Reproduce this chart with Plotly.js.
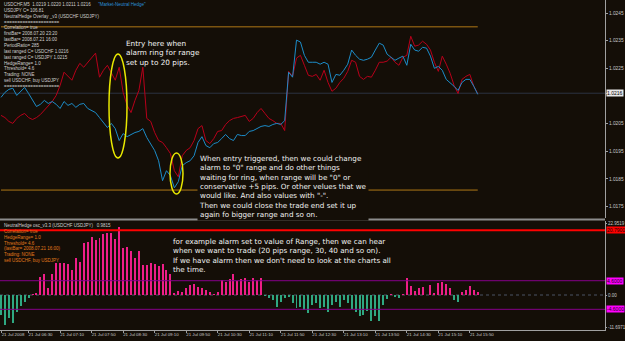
<!DOCTYPE html>
<html><head><meta charset="utf-8">
<script src="https://cdn.plot.ly/plotly-3.0.1.min.js"></script>
<style>html,body{margin:0;padding:0;background:#140e07;overflow:hidden;} #chart{width:625px;height:341px;}</style>
</head><body><div id="chart"></div>
<script>
// ---- data ----
const startTime = [2008, 7, 21, 5, 55];   // first visible M5 bar
const barMinutes = 5;
const redLine = [
1.02080,1.02072,1.02058,1.02051,1.02069,1.02080,1.02087,1.02072,1.02065,1.02072,
1.02083,1.02098,1.02112,1.02130,1.02152,1.02188,1.02236,1.02221,1.02207,1.02243,
1.02268,1.02254,1.02272,1.02290,1.02305,1.02218,1.02243,1.02261,1.02236,1.02207,
1.02254,1.02163,1.02116,1.02090,1.02134,1.02170,1.02254,1.02069,1.02058,1.02018,
1.01989,1.01982,1.01963,1.01942,1.01880,1.01858,1.01934,1.01953,1.01963,1.01989,
1.02032,1.02043,1.01989,1.01978,1.01996,1.02022,1.02025,1.02047,1.02061,1.02069,
1.02072,1.02076,1.02080,1.02058,1.02069,1.02090,1.02105,1.02087,1.02069,1.02061,
1.02051,1.02051,1.02025,1.02239,1.02221,1.02287,1.02297,1.02261,1.02225,1.02221,
1.02228,1.02207,1.02243,1.02199,1.02167,1.02178,1.02199,1.02214,1.02239,1.02279,
1.02272,1.02221,1.02210,1.02221,1.02218,1.02243,1.02272,1.02272,1.02276,1.02290,
1.02272,1.02261,1.02290,1.02297,1.02366,1.02330,1.02334,1.02348,1.02337,1.02316,
1.02272,1.02239,1.02294,1.02265,1.02232,1.02188,1.02159,1.02210,1.02221,1.02228,
1.02185,1.02159];
const blueLine = [
1.02145,1.02163,1.02174,1.02178,1.02152,1.02167,1.02181,1.02159,1.02134,1.02112,
1.02120,1.02134,1.02123,1.02130,1.02120,1.02105,1.02130,1.02116,1.02123,1.02109,
1.02120,1.02123,1.02105,1.02098,1.02090,1.02072,1.02054,1.02036,1.02051,1.02032,
1.01989,1.02014,1.02003,1.02011,1.02018,1.02022,1.02032,1.02000,1.01978,1.01953,
1.01916,1.01844,1.01880,1.01862,1.01818,1.01840,1.01898,1.01909,1.01916,1.01934,
1.01982,1.02003,1.01971,1.01963,1.01978,1.01982,1.01996,1.02011,1.01996,1.01989,
1.02011,1.02007,1.02007,1.02022,1.02025,1.02032,1.02040,1.02043,1.02040,1.02047,
1.02051,1.02047,1.02061,1.02236,1.02218,1.02352,1.02345,1.02297,1.02272,1.02272,
1.02272,1.02265,1.02272,1.02265,1.02199,1.02228,1.02225,1.02243,1.02265,1.02316,
1.02297,1.02283,1.02279,1.02283,1.02290,1.02316,1.02341,1.02334,1.02301,1.02290,
1.02279,1.02287,1.02294,1.02261,1.02337,1.02316,1.02312,1.02326,1.02323,1.02294,
1.02250,1.02257,1.02243,1.02210,1.02199,1.02185,1.02170,1.02199,1.02210,1.02210,
1.02185,1.02156];
const oscValues = [
-6.5,-9.5,-7.5,-9.0,-5.5,-3.5,-2.2,-0.8,0.3,0.5,
5.9,6.6,2.4,6.6,10.4,10.4,10.2,9.9,8.0,11.8,
10.7,16.6,17.1,18.8,17.7,18.2,19.5,20.1,19.8,18.0,
22.0,15.0,15.5,14.1,11.8,14.1,9.6,9.6,10.2,9.9,
9.4,9.9,8.0,6.6,0.5,1.3,1.1,2.4,3.2,3.4,
2.7,2.4,1.6,0.9,0.4,0.9,4.9,4.2,5.3,6.6,
4.5,5.0,5.4,4.3,5.4,4.9,5.6,-0.3,-1.0,-1.5,
-3.7,-2.1,-1.0,-0.5,-2.7,-4.3,-3.7,-4.8,-5.9,-3.2,
-2.7,-4.3,-3.7,-5.4,-3.2,-2.1,-3.7,-1.6,-2.7,-4.5,
-5.4,-6.6,-6.4,-5.0,-8.4,-6.6,-8.4,-3.2,-1.3,0.2,
-0.5,-1.0,0.3,5.4,3.0,1.3,2.4,2.7,-0.1,3.2,
0.6,3.8,4.3,3.6,2.4,-1.6,-2.1,0.9,1.7,2.8,
1.5,0.9];
const upperBand = 1.0240, lowerBand = 1.0181, bidPrice = 1.0216;
const alarmLevel = 20.79, thresholdLevel = 4.6;
const priceTicks = [1.0245,1.0235,1.0225,1.0216,1.0205,1.0195,1.0185,1.0175];
const priceTickText = ['1.0245','1.0235','1.0225','','1.0205','1.0195','1.0185','1.0175'];
const oscTicks = [22.95, 0, -10.4];
const oscTickText = ['22.9519','0.00','-11.6971'];
const timeTickVals = ['2008-07-21 05:55','2008-07-21 06:30','2008-07-21 07:10','2008-07-21 07:50','2008-07-21 08:30',
 '2008-07-21 09:10','2008-07-21 09:50','2008-07-21 10:30','2008-07-21 11:10','2008-07-21 11:50','2008-07-21 12:30',
 '2008-07-21 13:10','2008-07-21 13:50','2008-07-21 14:30','2008-07-21 15:10','2008-07-21 15:50'];
const timeTickText = ['21 Jul 2008','21 Jul 06:30','21 Jul 07:10','21 Jul 07:50','21 Jul 08:30','21 Jul 09:10',
 '21 Jul 09:50','21 Jul 10:30','21 Jul 11:10','21 Jul 11:50','21 Jul 12:30','21 Jul 13:10','21 Jul 13:50',
 '21 Jul 14:30','21 Jul 15:10','21 Jul 15:50'];
const xRange = ['2008-07-21 05:53:44','2008-07-21 18:41:30'];

// ---- build times ----
function pad(n){return (n<10?'0':'')+n;}
const times = redLine.map((_, i) => {
  const m = startTime[3]*60 + startTime[4] + i*barMinutes;
  return startTime[0]+'-'+pad(startTime[1])+'-'+pad(startTime[2])+' '+pad(Math.floor(m/60))+':'+pad(m%60);
});

const BG = '#140e07';
const FONT = 'Liberation Sans, Arial, sans-serif';
const NOTE = 'DejaVu Sans, Verdana, sans-serif';
const W = 605, H = 330;
const px = v => v / W, py = v => 1 - v / H;

const traces = [
  {x: times, y: redLine, type: 'scatter', mode: 'lines', line: {color: '#b8001a', width: 1}, xaxis: 'x', yaxis: 'y', hoverinfo: 'skip'},
  {x: times, y: blueLine, type: 'scatter', mode: 'lines', line: {color: '#1c8cc8', width: 1}, xaxis: 'x', yaxis: 'y', hoverinfo: 'skip'},
  {x: times, y: oscValues, type: 'bar', width: 150000,
   marker: {color: oscValues.map(v => v >= 0 ? '#ee1e88' : '#2fa881'), line: {width: 0}},
   xaxis: 'x', yaxis: 'y2', hoverinfo: 'skip'}
];

const lbl = (txt, yv, yref, bg, fc) => ({text: txt, xref: 'paper', x: 1, xanchor: 'left', xshift: 1, yref: yref, y: yv,
  yanchor: 'middle', showarrow: false, bgcolor: bg, borderpad: 0, font: {family: FONT, size: 5, color: fc}});

const topInfo = 'USDCHF,M5  1.0219 1.0220 1.0211 1.0216      <span style="color:#2a90d8">"Market-Neutral Hedge"</span><br>' +
 'USDJPY C= 106.81<br>NeutralHedge Overlay _v3 (USDCHF USDJPY)<br>=====================<br>Correlation= true<br>' +
 'firstBar= 2008.07.20 23:20<br>lastBar= 2008.07.21 16:00<br>PeriodRatio= 285<br>last ranged C= USDCHF 1.0216<br>' +
 'last ranged C= USDJPY 1.0215<br>HedgeRange= 1.0<br>Threshold= 4.6<br>Trading: NONE<br>sell USDCHF, buy USDJPY<br>=====================';
const botInfo = 'NeutralHedge osc_v3.3 (USDCHF USDJPY)   0.9815<br><span style="color:#e07a1c">Correlation= true<br>HedgeRange= 1.0<br>' +
 'Threshold= 4.6<br>(lastBar= 2008.07.21 16:00)<br>Trading: NONE<br>sell USDCHF, buy USDJPY</span>';

const layout = {
  width: 625, height: 341,
  paper_bgcolor: BG, plot_bgcolor: BG,
  margin: {l: 0, r: 20, t: 0, b: 11},
  showlegend: false, bargap: 0,
  xaxis: {type: 'date', range: xRange, anchor: 'y2', tickvals: timeTickVals, ticktext: timeTickText,
    tickfont: {family: FONT, size: 4.4, color: '#c8c8c8'}, ticks: 'outside', ticklen: 2, tickcolor: '#a0a0a0',
    ticklabelshift: 12, ticklabelstandoff: -2, showline: true, linecolor: '#a0a0a0', linewidth: 1, showgrid: false, zeroline: false, fixedrange: true},
  yaxis: {domain: [1 - 218 / H, 1], range: [1.01709, 1.02497], side: 'right', tickvals: priceTicks, ticktext: priceTickText,
    tickfont: {family: FONT, size: 4.8, color: '#c8c8c8'}, ticks: 'outside', ticklen: 2, tickcolor: '#a0a0a0',
    showline: true, linecolor: '#a0a0a0', linewidth: 1, showgrid: false, zeroline: false, fixedrange: true},
  yaxis2: {domain: [0, 1 - 221 / H], range: [-11.25, 23.8], side: 'right', tickvals: oscTicks, ticktext: oscTickText,
    tickfont: {family: FONT, size: 4.5, color: '#c8c8c8'}, ticks: 'outside', ticklen: 1, tickcolor: '#a0a0a0',
    showline: true, linecolor: '#a0a0a0', linewidth: 1, showgrid: false, zeroline: false, fixedrange: true},
  shapes: [
    {type: 'line', xref: 'paper', x0: 0, x1: 1, yref: 'y', y0: bidPrice, y1: bidPrice, line: {color: '#2c3242', width: 1}, layer: 'below'},
    {type: 'line', xref: 'x', x0: times[0], x1: times[times.length - 1], yref: 'y', y0: upperBand, y1: upperBand, line: {color: '#b07816', width: 1}},
    {type: 'line', xref: 'x', x0: times[0], x1: times[times.length - 1], yref: 'y', y0: lowerBand, y1: lowerBand, line: {color: '#b07816', width: 1}},
    {type: 'line', xref: 'paper', x0: 0, x1: 1, yref: 'y2', y0: 0, y1: 0, line: {color: '#4a5264', width: 1, dash: 'dot'}, layer: 'below'},
    {type: 'line', xref: 'paper', x0: 0, x1: 1, yref: 'y2', y0: thresholdLevel, y1: thresholdLevel, line: {color: '#86008a', width: 1}},
    {type: 'line', xref: 'paper', x0: 0, x1: 1, yref: 'y2', y0: -thresholdLevel, y1: -thresholdLevel, line: {color: '#86008a', width: 1}},
    {type: 'line', xref: 'paper', x0: 0, x1: 1, yref: 'y2', y0: alarmLevel, y1: alarmLevel, line: {color: '#ff0000', width: 2}},
    {type: 'line', xref: 'paper', x0: 0, x1: 1, yref: 'paper', y0: py(219.5), y1: py(219.5), line: {color: '#8c8c8c', width: 2}},
    {type: 'circle', xref: 'paper', yref: 'paper', x0: px(109), x1: px(127), y0: py(158), y1: py(54), line: {color: '#e8e800', width: 1.5}},
    {type: 'circle', xref: 'paper', yref: 'paper', x0: px(170), x1: px(183), y0: py(194), y1: py(153), line: {color: '#e8e800', width: 1.5}}
  ],
  annotations: [
    {text: topInfo, xref: 'paper', yref: 'paper', x: px(2), y: py(0), xanchor: 'left', yanchor: 'top', align: 'left',
     showarrow: false, font: {family: FONT, size: 4.5, color: '#d0d0d0'}},
    {text: botInfo, xref: 'paper', yref: 'paper', x: px(2), y: py(221), xanchor: 'left', yanchor: 'top', align: 'left',
     showarrow: false, font: {family: FONT, size: 4.5, color: '#d0d0d0'}},
    {text: 'Entry here when<br>alarm ring for range<br>set up to 20 pips.', xref: 'paper', yref: 'paper', x: px(124), y: py(37),
     xanchor: 'left', yanchor: 'top', align: 'left', showarrow: false, font: {family: NOTE, size: 7.3, color: '#f2f2f2'}},
    {text: 'When entry triggered, then we could change<br>alarm to "0" range and do other things<br>waiting for ring, when range will be "0" or<br>' +
           'conservative +5 pips. Or other velues that we<br>would like. And also values with "-".<br>Then we could close the trade end set it up<br>again fo bigger range and so on.',
     xref: 'paper', yref: 'paper', x: px(197), y: py(152), xanchor: 'left', yanchor: 'top', align: 'left', showarrow: false,
     bgcolor: BG, borderpad: 1, font: {family: NOTE, size: 7.2, color: '#f2f2f2'}},
    {text: 'for example alarm set to value of Range, then we can hear<br>when we want to trade (20 pips range, 30, 40 and so on).<br>' +
           'If we have alarm then we don\'t need to look at the charts all<br>the time.',
     xref: 'paper', yref: 'paper', x: px(171), y: py(235), xanchor: 'left', yanchor: 'top', align: 'left', showarrow: false,
     font: {family: NOTE, size: 7.2, color: '#f2f2f2'}},
    lbl('1.0216', bidPrice, 'y', '#e8e8e8', '#000000'),
    lbl('20.7900', alarmLevel, 'y2', '#ff0000', '#200000'),
    lbl('4.6000', thresholdLevel, 'y2', '#ff00ff', '#200020'),
    lbl('-4.6000', -thresholdLevel, 'y2', '#ff00ff', '#200020')
  ]
};

Plotly.newPlot('chart', traces, layout, {staticPlot: true, displayModeBar: false});
</script>
</body></html>
